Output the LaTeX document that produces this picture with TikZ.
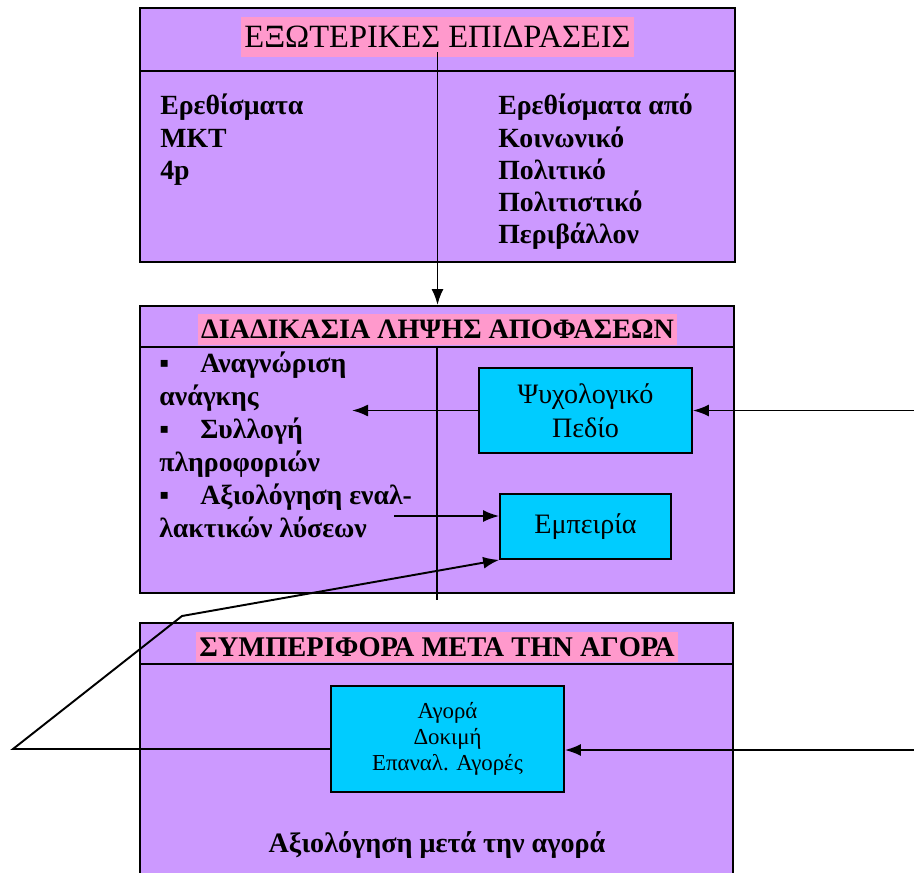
\documentclass[tikz,border=0pt]{standalone}
\usepackage{fontspec}
\setmainfont{Liberation Serif}
\usetikzlibrary{arrows.meta, positioning}
\definecolor{panelpurple}{HTML}{CC99FF}
\definecolor{headpink}{HTML}{FF99CC}
\definecolor{cellcyan}{HTML}{00CCFF}

\begin{document}
\begin{tikzpicture}[
    panel/.style={rectangle, draw, fill=panelpurple, line width=1.1pt},
    heading/.style={fill=headpink, inner xsep=2pt, inner ysep=0pt, font=\fontsize{18.5}{21}\selectfont},
    cell/.style={rectangle, draw, fill=cellcyan, line width=1pt, align=center, font=\fontsize{16}{19.5}\selectfont},
    listing/.style={anchor=north west, align=left, inner sep=0pt, font=\fontsize{15.8}{18.3}\selectfont\bfseries},
    arrow/.style={-{Latex[length=0.32cm, width=0.24cm]}, line width=1.1pt}
]
    \useasboundingbox (0,0) rectangle (18.28,-17.44);
    % Nodes
    \node (extbox) [panel, minimum width=11.9cm, minimum height=5.08cm] at (8.75,-2.70) {};
    \node (exttitle) [heading, minimum height=0.8cm] at (8.75,-0.74) {ΕΞΩΤΕΡΙΚΕΣ ΕΠΙΔΡΑΣΕΙΣ};
    \node (stimuli) [listing] at (3.2,-1.88) {Ερεθίσματα\\ΜΚΤ\\4p};
    \node (social) [listing] at (9.96,-1.88) {Ερεθίσματα από\\Κοινωνικό\\Πολιτικό\\Πολιτιστικό\\Περιβάλλον};

    \node (decbox) [panel, minimum width=11.88cm, minimum height=5.74cm] at (8.74,-8.99) {};
    \node (dectitle) [heading, minimum height=0.62cm, font=\fontsize{16}{18}\selectfont\bfseries] at (8.75,-6.59) {ΔΙΑΔΙΚΑΣΙΑ ΛΗΨΗΣ ΑΠΟΦΑΣΕΩΝ};
    \node (steps) [listing, font=\fontsize{15.8}{18.75}\selectfont\bfseries] at (3.18,-7.04) {\makebox[0.82cm][l]{▪}Αναγνώριση\\ανάγκης\\\makebox[0.82cm][l]{▪}Συλλογή\\πληροφοριών\\\makebox[0.82cm][l]{▪}Αξιολόγηση εναλ-\\λακτικών λύσεων};
    \node (psych) [cell, minimum width=4.26cm, minimum height=1.70cm] at (11.71,-8.21) {Ψυχολογικό\\Πεδίο};
    \node (exper) [cell, minimum width=3.42cm, minimum height=1.30cm] at (11.71,-10.53) {Εμπειρία};

    \node (postbox) [panel, minimum width=11.86cm, minimum height=5.2cm] at (8.73,-15.06) {};
    \node (posttitle) [heading, minimum height=0.6cm, font=\fontsize{16.2}{18}\selectfont\bfseries] at (8.74,-12.94) {ΣΥΜΠΕΡΙΦΟΡΑ ΜΕΤΑ ΤΗΝ ΑΓΟΡΑ};
    \node (purchase) [cell, minimum width=4.66cm, minimum height=2.12cm, font=\fontsize{13}{15}\selectfont] at (8.95,-14.78) {Αγορά\\Δοκιμή\\Επαναλ. Αγορές};
    \node (posteval) [font=\fontsize{16}{18}\selectfont\bfseries] at (8.74,-16.9) {Αξιολόγηση μετά την αγορά};

    % Free ends
    \coordinate (exthead) at (0,-1.42);
    \coordinate (dechead) at (0,-6.94);
    \coordinate (decfoot) at (8.74,-12.0);
    \coordinate (posthead) at (0,-13.28);
    \coordinate (psyin) at (18.28,-8.21);
    \coordinate (needs) at (7.04,-8.21);
    \coordinate (altstart) at (7.88,-10.32);
    \coordinate (buyin) at (18.28,-15.0);
    \coordinate (loopleft) at (0.26,-14.98);
    \coordinate (loopup) at (3.64,-12.32);

    % Dividers
    \draw [line width=1.1pt] (extbox.west |- exthead) -- (extbox.east |- exthead);
    \draw [line width=1.1pt] (decbox.west |- dechead) -- (decbox.east |- dechead);
    \draw [line width=0.8pt] (decfoot |- dechead) -- (decfoot);
    \draw [line width=1.1pt] (postbox.west |- posthead) -- (postbox.east |- posthead);

    % Paths
    \draw [arrow] ([yshift=0.1cm]exttitle.south) -- (exttitle.south |- decbox.north);
    \draw [arrow] (psyin) -- (psych.east);
    \draw [arrow] (psych.west) -- (needs);
    \draw [arrow] (altstart) -- (altstart -| exper.west);
    \draw [arrow] (buyin) -- (buyin -| purchase.east);
    \draw [arrow] (purchase.west |- loopleft) -- (loopleft) -- (loopup) -- (exper.south west);
\end{tikzpicture}
\end{document}
